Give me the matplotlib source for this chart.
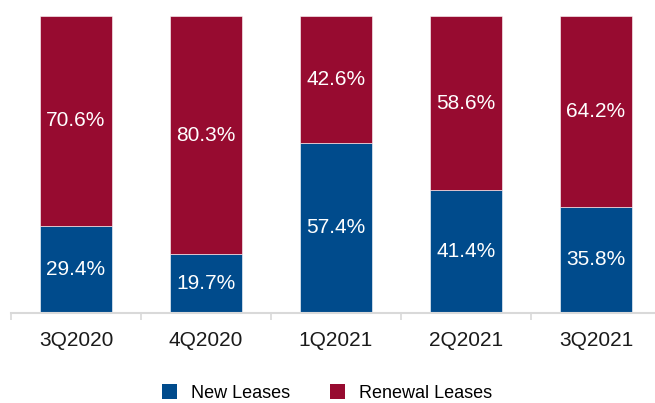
import matplotlib
matplotlib.use("Agg")
import matplotlib.pyplot as plt
from matplotlib.patches import Patch
import numpy as np

plt.rcParams['font.family'] = ['Liberation Sans', 'DejaVu Sans']

quarters = ["3Q2020", "4Q2020", "1Q2021", "2Q2021", "3Q2021"]
new_leases = [29.4, 19.7, 57.4, 41.4, 35.8]
renewal_leases = [70.6, 80.3, 42.6, 58.6, 64.2]

blue = "#004B8C"
red = "#970B30"

fig = plt.figure(figsize=(6.55, 4.03), dpi=100)
ax = fig.add_axes([11/655, 90/403, 650/655, 297/403])

x = np.arange(len(quarters))
w = 0.555
b1 = ax.bar(x, new_leases, width=w, color=blue, edgecolor="white", linewidth=0.4)
b2 = ax.bar(x, renewal_leases, width=w, bottom=new_leases, color=red, edgecolor="white", linewidth=0.4)

for i in range(len(quarters)):
    ax.text(x[i], new_leases[i] / 2, f"{new_leases[i]:.1f}%", ha="center", va="center",
            color="white", fontsize=15)
    ax.text(x[i], new_leases[i] + renewal_leases[i] / 2, f"{renewal_leases[i]:.1f}%",
            ha="center", va="center", color="white", fontsize=15)

ax.set_xlim(-0.5, len(quarters) - 0.5)
ax.set_ylim(0, 100)
ax.set_xticks(x)
ax.set_xticklabels(quarters, fontsize=15, color="#1a1a1a")
ax.set_xticks(np.arange(len(quarters) + 1) - 0.5, minor=True)
ax.tick_params(axis="x", which="major", length=0, pad=13)
ax.tick_params(axis="x", which="minor", length=5, width=1.2, color="#d9d9d9")
ax.set_yticks([])
for s in ["top", "right", "left"]:
    ax.spines[s].set_visible(False)
ax.spines["bottom"].set_color("#d9d9d9")
ax.spines["bottom"].set_linewidth(1.5)

handles = [Patch(facecolor=blue, label="New Leases"), Patch(facecolor=red, label="Renewal Leases")]
fig.legend(handles=handles, loc="center", bbox_to_anchor=(327/655, 1 - 393/403), ncol=2,
           frameon=False, fontsize=13, handlelength=0.85, handleheight=0.85,
           handletextpad=0.75, columnspacing=2.2, borderpad=0)

fig.savefig("out.png", dpi=100)
